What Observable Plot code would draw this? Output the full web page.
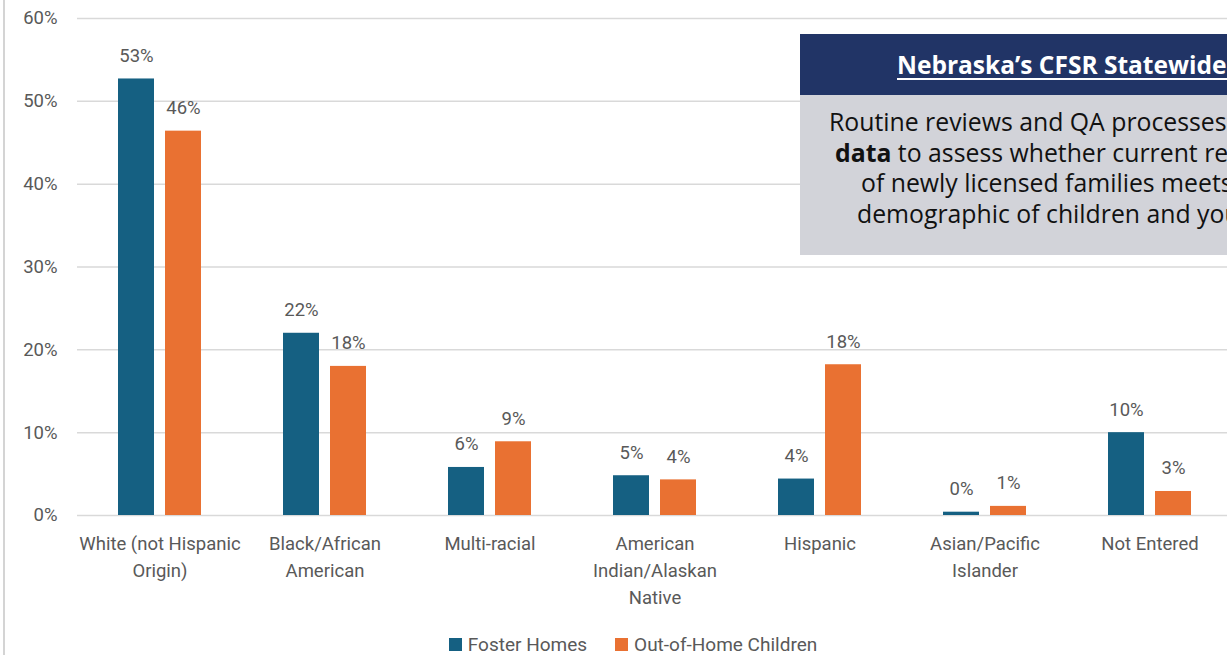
<!DOCTYPE html>
<html>
<head>
<meta charset="utf-8">
<script src="https://cdn.jsdelivr.net/npm/d3@7"></script>
<script src="https://cdn.jsdelivr.net/npm/@observablehq/plot@0.6"></script>
<style>
  html, body { margin: 0; padding: 0; background: #fff; overflow: hidden; width: 1227px; height: 655px; }
  #wrap { position: relative; width: 1227px; height: 655px; overflow: hidden; }
  #chart { position: absolute; left: 0; top: 0; width: 1240px; }
  #chart svg { max-width: none !important; }
  #border { position: absolute; left: 3px; top: 0; width: 1.5px; height: 655px; background: #d4d4d4; }
  #legend { position: absolute; left: 0; top: 635px; width: 1266px; height: 19px; display: flex; justify-content: center; align-items: center;
            font-family: Roboto, sans-serif; font-size: 19px; line-height: 19px; color: #595959; gap: 28px; }
  #legend .item { display: flex; align-items: center; }
  #legend .sw { width: 13px; height: 13px; margin-right: 6px; display: inline-block; }
  #box { position: absolute; left: 800px; top: 34px; width: 700px; font-family: "Open Sans", sans-serif; }
  #box .head { height: 61px; background: #213466; color: #fff; font-weight: bold; font-size: 24.5px; line-height: 61px; white-space: nowrap; padding-left: 97px; }
  #box .head span { text-decoration: underline; text-underline-offset: 4px; text-decoration-thickness: 2px; }
  #box .body { height: 149px; background: #d2d3d9; padding-top: 11px; color: #111; font-size: 24.8px; line-height: 30.5px; }
  #box .body div { white-space: nowrap; }
</style>
</head>
<body>
<div id="wrap">
  <div id="chart"></div>
  <div id="border"></div>
  <div id="legend"></div>
  <div id="box">
    <div class="head"><span>Nebraska’s CFSR Statewide Assessment</span></div>
    <div class="body">
      <div style="padding-left:29px">Routine reviews and QA processes</div>
      <div style="padding-left:35px"><b>data</b> to assess whether current recruitment</div>
      <div style="padding-left:61px">of newly licensed families meets</div>
      <div style="padding-left:57px">demographic of children and youth</div>
    </div>
  </div>
</div>
<script>
const categories = [
  "White (not Hispanic\nOrigin)",
  "Black/African\nAmerican",
  "Multi-racial",
  "American\nIndian/Alaskan\nNative",
  "Hispanic",
  "Asian/Pacific\nIslander",
  "Not Entered"
];
const series = ["Foster Homes", "Out-of-Home Children"];
const fosterHomes = [52.7, 22.0, 5.8, 4.8, 4.4, 0.4, 10.0];
const outOfHomeChildren = [46.4, 18.0, 8.9, 4.3, 18.2, 1.1, 2.9];
const yTicks = [0, 10, 20, 30, 40, 50, 60];
const colors = ["#156082", "#E97132"];

const data = categories.flatMap((c, i) => [
  {category: c, series: series[0], value: fosterHomes[i]},
  {category: c, series: series[1], value: outOfHomeChildren[i]}
]);

const chart = Plot.plot({
  width: 1240,
  height: 634,
  marginLeft: 75,
  marginRight: 7,
  marginTop: 18,
  marginBottom: 119,
  style: {fontFamily: "Roboto, sans-serif", color: "#595959", background: "transparent", overflow: "visible", maxWidth: "none"},
  fx: {domain: categories, padding: 0, label: null},
  x: {domain: series, axis: null, paddingInner: 0.232, paddingOuter: 0.858},
  y: {domain: [0, 60], label: null},
  color: {domain: series, range: colors},
  marks: [
    Plot.gridY(yTicks, {stroke: "#d9d9d9", strokeOpacity: 1, strokeWidth: 1.5}),
    Plot.axisY(yTicks, {tickSize: 0, tickPadding: 20, tickFormat: d => d + "%", fontSize: 18.5, label: null}),
    Plot.axisFx({anchor: "bottom", tickSize: 0, tickPadding: 15, fontSize: 18.5, lineHeight: 1.46, label: null}),
    Plot.barY(data, {fx: "category", x: "series", y: "value", fill: "series"}),
    Plot.text(data, {fx: "category", x: "series", y: "value", text: d => Math.round(d.value) + "%", dy: -23, fontSize: 18.5, fill: "#595959"})
  ]
});
document.getElementById("chart").appendChild(chart);

const legend = document.getElementById("legend");
series.forEach((s, i) => {
  const item = document.createElement("div");
  item.className = "item";
  const sw = document.createElement("span");
  sw.className = "sw";
  sw.style.background = colors[i];
  const label = document.createElement("span");
  label.textContent = s;
  item.appendChild(sw);
  item.appendChild(label);
  legend.appendChild(item);
});
</script>
</body>
</html>
